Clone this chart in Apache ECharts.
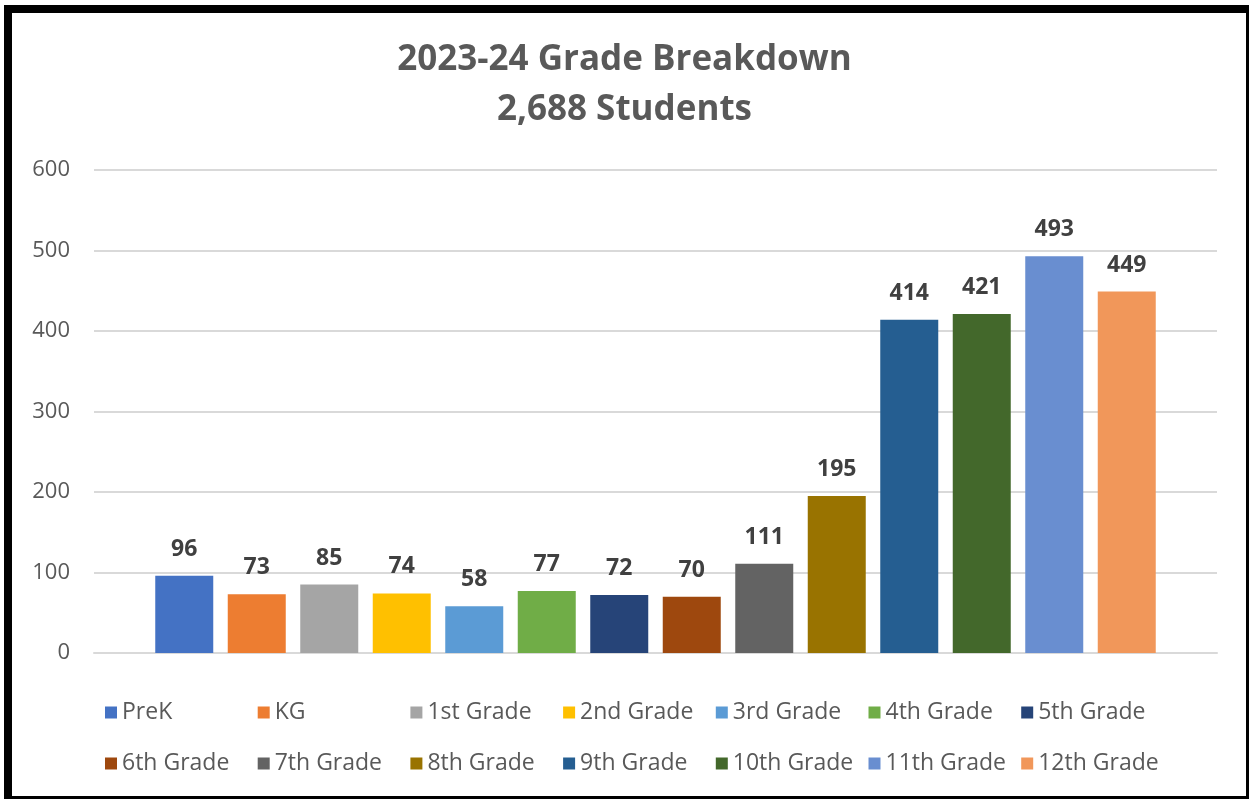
<!DOCTYPE html>
<html>
<head>
<meta charset="utf-8">
<script src="https://cdn.jsdelivr.net/npm/echarts@6/dist/echarts.min.js"></script>
<style>
  html, body { margin: 0; padding: 0; background: #fff; }
  #chart { position: absolute; left: 0; top: 0; width: 1249px; height: 799px; }
  #frame {
    position: absolute; left: 4px; top: 5px; width: 1245px; height: 794px;
    box-sizing: border-box; pointer-events: none;
    border-top: 8px solid #000; border-left: 8px solid #000;
    border-right: 3px solid #000; border-bottom: 3px solid #000;
  }
</style>
</head>
<body>
<div id="chart"></div>
<div id="frame"></div>
<script>
// grade names, enrolment counts and bar colours
const grades = [
  "PreK", "KG", "1st Grade", "2nd Grade", "3rd Grade", "4th Grade", "5th Grade",
  "6th Grade", "7th Grade", "8th Grade", "9th Grade", "10th Grade", "11th Grade", "12th Grade",
];
const students = [96, 73, 85, 74, 58, 77, 72, 70, 111, 195, 414, 421, 493, 449];
const colors = [
  "#4472C4", "#ED7D31", "#A5A5A5", "#FFC000", "#5B9BD5", "#70AD47", "#264478",
  "#9E480E", "#636363", "#997300", "#255E91", "#43682B", "#698ED0", "#F1975A",
];
const yTicks = { min: 0, max: 600, step: 100 };

const font = "'Open Sans', 'Liberation Sans', sans-serif";

// legend is laid out in fixed columns (7 per row), one small legend per entry
const perRow = 7;
const colStart = 100;
const colWidth = 152.7;
const rowTops = [696, 747];

const legends = grades.map((g, i) => ({
  data: [g],
  left: colStart + (i % perRow) * colWidth,
  top: rowTops[Math.floor(i / perRow)],
  itemWidth: 12,
  itemHeight: 12,
  itemGap: 5,
  icon: "rect",
  textStyle: { color: "#595959", fontSize: 23, fontFamily: font },
}));

const myChart = echarts.init(document.getElementById("chart"));

const option = {
  animation: false,
  title: {
    text: "2023-24 Grade Breakdown\n2,688 Students",
    left: "center",
    top: 30,
    textStyle: {
      color: "#595959",
      fontSize: 35,
      fontWeight: "bold",
      fontFamily: font,
      lineHeight: 50,
    },
  },
  legend: legends,
  grid: {
    left: 94,
    right: 32,
    top: 170,
    bottom: 146,
  },
  xAxis: {
    type: "category",
    data: [""],
    axisTick: { show: false },
    axisLabel: { show: false },
    axisLine: { lineStyle: { color: "#d9d9d9", width: 2 } },
  },
  yAxis: {
    type: "value",
    min: yTicks.min,
    max: yTicks.max,
    interval: yTicks.step,
    axisLine: { show: false },
    axisTick: { show: false },
    axisLabel: {
      color: "#595959",
      fontSize: 22,
      fontFamily: font,
      margin: 24,
    },
    splitLine: { lineStyle: { color: "#d9d9d9", width: 2 } },
  },
  series: grades.map((g, i) => ({
    name: g,
    type: "bar",
    data: [students[i]],
    barWidth: 58,
    barGap: "25%",
    itemStyle: { color: colors[i] },
    label: {
      show: true,
      position: "top",
      distance: 15,
      color: "#404040",
      fontSize: 23,
      fontWeight: "bold",
      fontFamily: font,
    },
  })),
};

myChart.setOption(option);
</script>
</body>
</html>
